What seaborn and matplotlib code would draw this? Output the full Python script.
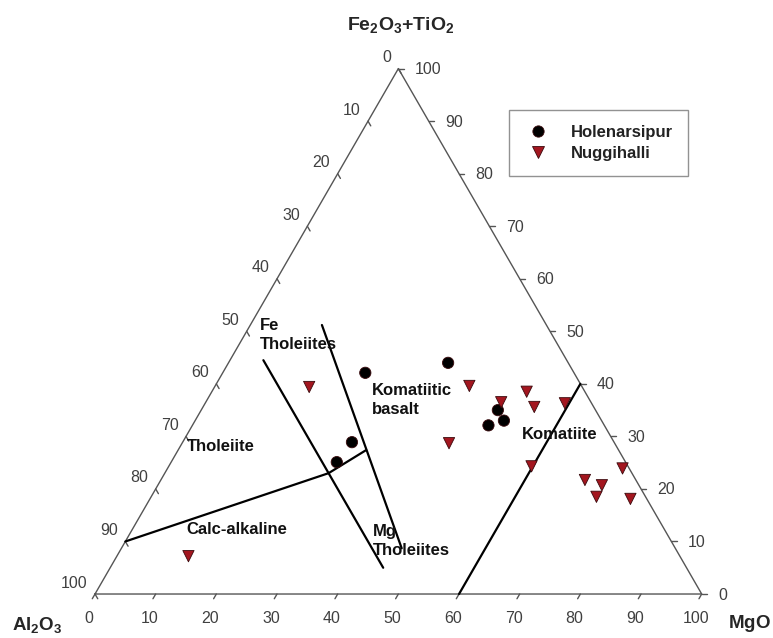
import numpy as np
import pandas as pd
import matplotlib
matplotlib.use("Agg")
import matplotlib.pyplot as plt
import seaborn as sns

# Jensen cation plot data (cation %): MgO and Fe2O3+TiO2; Al2O3 is the remainder
holenarsipur_mgo = [23.5, 27.9, 27.3, 36.2, 48.9, 50.9, 48.8]
holenarsipur_fe = [42.1, 28.9, 25.1, 44.0, 35.0, 33.0, 32.1]
nuggihalli_mgo = [15.6, 41.9, 51.9, 48.7, 54.6, 59.3, 44.0, 59.8, 75.0, 69.9, 73.2, 73.4, 79.2, 11.8]
nuggihalli_fe = [39.4, 39.6, 38.5, 36.5, 35.6, 36.3, 28.7, 24.3, 23.9, 21.7, 20.7, 18.5, 18.1, 7.2]

# Field boundaries as (MgO, Fe2O3+TiO2) vertices
calc_alkaline_line = [(0.0, 10.0), (27.0, 23.0), (31.0, 27.4)]
fe_mg_tholeiite_left = [(5.5, 44.5), (45.0, 5.0)]
fe_mg_tholeiite_right = [(11.8, 51.2), (46.2, 8.7)]
komatiite_line = [(60.0, 0.0), (60.0, 40.0)]

tick_values = list(range(0, 101, 10))

# Field names anchored (left edge, vertical centre) at (MgO, Fe2O3+TiO2)
field_labels = [
    ("Fe\nTholeiites", 2.6, 49.3),
    ("Komatiitic\nbasalt", 27.2, 36.9),
    ("Tholeiite", 1.1, 28.0),
    ("Calc-alkaline", 9.0, 12.2),
    ("Mg\nTholeiites", 40.8, 10.1),
    ("Komatiite", 55.2, 30.3),
]

SQ3 = np.sqrt(3) / 2


def to_xy(mg, fe):
    mg = np.asarray(mg, dtype=float)
    fe = np.asarray(fe, dtype=float)
    return mg + fe / 2.0, fe * SQ3


sns.set_style("white")
plt.rcParams["font.family"] = ["Liberation Sans", "DejaVu Sans"]
plt.rcParams["mathtext.fontset"] = "custom"
plt.rcParams["mathtext.rm"] = "Liberation Sans"
plt.rcParams["mathtext.bf"] = "Liberation Sans:bold"

fig = plt.figure(figsize=(7.73, 6.38), dpi=100)
ax = fig.add_axes([0, 0, 1, 1])
ax.set_xlim(-15.66, 111.75)
ax.set_ylim(-7.25, 97.91)
ax.set_aspect("equal")
ax.axis("off")

# triangle frame
frame_x, frame_y = to_xy([0, 100, 0, 0], [0, 0, 100, 0])
ax.plot(frame_x, frame_y, color="#555555", lw=1.0, zorder=2)

tick_color = "#404040"
tick_fs = 11.5
L = 0.9  # tick length in data units
for v in tick_values:
    # bottom axis (MgO)
    bx, by = to_xy(v, 0)
    ax.plot([bx, bx - L * 0.5], [by, by - L * SQ3], color="#555555", lw=1.0)
    ax.annotate(str(v), (bx, by), xytext=(-6, -24), textcoords="offset pixels",
                ha="center", va="center", fontsize=tick_fs, color=tick_color)
    # left axis (Al2O3)
    lx, ly = to_xy(0, 100 - v)
    ax.plot([lx, lx + L * 0.5], [ly, ly - L * SQ3], color="#555555", lw=1.0)
    ax.annotate(str(v), (lx, ly), xytext=(-7.5, 11), textcoords="offset pixels",
                ha="right", va="center", fontsize=tick_fs, color=tick_color)
    # right axis (Fe2O3+TiO2)
    rx, ry = to_xy(100 - v, v)
    ax.plot([rx, rx + L], [ry, ry], color="#555555", lw=1.0)
    ax.annotate(str(v), (rx, ry), xytext=(16.5, -1), textcoords="offset pixels",
                ha="left", va="center", fontsize=tick_fs, color=tick_color)

# field boundaries
for seg in [calc_alkaline_line, fe_mg_tholeiite_left, fe_mg_tholeiite_right, komatiite_line]:
    mg, fe = zip(*seg)
    sx, sy = to_xy(mg, fe)
    ax.plot(sx, sy, color="black", lw=1.6, zorder=3)

for text, mg, fe in field_labels:
    tx, ty = to_xy(mg, fe)
    ax.text(tx, ty, text, fontsize=12, fontweight="bold", ha="left", va="center",
            linespacing=1.35, color="#111111", zorder=4)

# samples
hx, hy = to_xy(holenarsipur_mgo, holenarsipur_fe)
nx, ny = to_xy(nuggihalli_mgo, nuggihalli_fe)
df = pd.DataFrame({
    "x": np.concatenate([hx, nx]),
    "y": np.concatenate([hy, ny]),
    "Locality": ["Holenarsipur"] * len(hx) + ["Nuggihalli"] * len(nx),
})
sns.scatterplot(data=df, x="x", y="y", hue="Locality", style="Locality",
                markers={"Holenarsipur": "o", "Nuggihalli": "v"},
                palette={"Holenarsipur": "black", "Nuggihalli": "#a3161f"},
                s=66, edgecolor="#3a0a0d", linewidth=0.6, ax=ax, zorder=5)

ax.set_xlim(-15.66, 111.75)
ax.set_ylim(-7.25, 97.91)

leg = ax.legend(loc="upper left", bbox_to_anchor=(509.3 / 773, 1 - 110 / 638),
                bbox_transform=fig.transFigure, frameon=True, fancybox=False,
                edgecolor="#777777", borderpad=0.9, handletextpad=1.2,
                labelspacing=0.35, handlelength=1.6, borderaxespad=0,
                prop={"weight": "bold", "size": 12})
leg.get_frame().set_linewidth(1.0)
for t in leg.get_texts():
    t.set_color("#222222")

# apex labels
ax.text(401 / 773, 1 - 25 / 638, r"$\mathbf{Fe_2O_3{+}TiO_2}$", transform=fig.transFigure,
        ha="center", va="center", fontsize=14)
ax.text(37.5 / 773, 1 - 625 / 638, r"$\mathbf{Al_2O_3}$", transform=fig.transFigure,
        ha="center", va="center", fontsize=13.5)
ax.text(749 / 773, 1 - 624 / 638, r"$\mathbf{MgO}$", transform=fig.transFigure,
        ha="center", va="center", fontsize=13.5)

fig.savefig("out.png", dpi=100)
